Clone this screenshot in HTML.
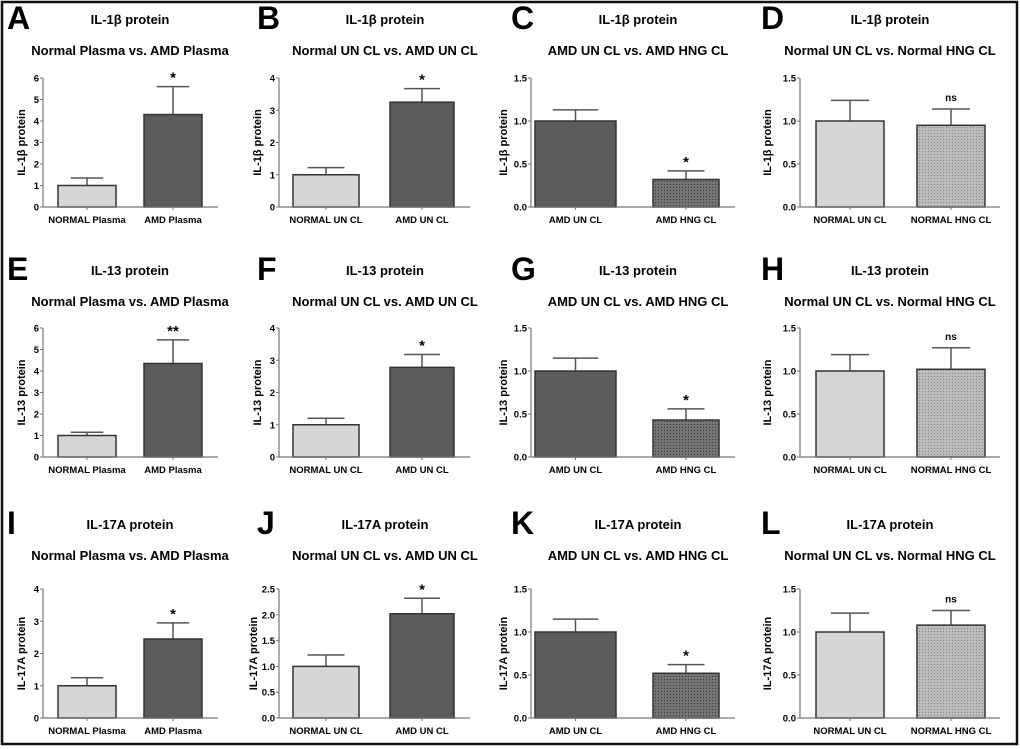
<!DOCTYPE html>
<html><head><meta charset="utf-8"><style>
html,body{margin:0;padding:0;background:#fff;}
svg{display:block;font-family:"Liberation Sans",Arial,sans-serif;}
</style></head><body>
<svg id="fig" width="1020" height="749" viewBox="0 0 1020 749">
<defs>
<pattern id="dotsLight" width="3" height="3" patternUnits="userSpaceOnUse"><rect width="3" height="3" fill="#bcbcbc"/><rect x="1" y="1" width="1" height="1" fill="#858585"/></pattern>
<pattern id="dotsDark" width="3" height="3" patternUnits="userSpaceOnUse"><rect width="3" height="3" fill="#747474"/><rect x="1" y="1" width="1" height="1" fill="#3a3a3a"/></pattern>
</defs>
<rect x="2" y="2" width="1015" height="742" fill="none" stroke="#111" stroke-width="2.5"/>
</svg>
<script>
const letters = ["A","B","C","D","E","F","G","H","I","J","K","L"];
const titles = ["IL-1β protein","IL-13 protein","IL-17A protein"];
const yLabels = ["IL-1β protein","IL-13 protein","IL-17A protein"];
const subtitles = ["Normal Plasma vs. AMD Plasma","Normal UN CL vs. AMD UN CL","AMD UN CL vs. AMD HNG CL","Normal UN CL vs. Normal HNG CL"];
const categories = [["NORMAL Plasma","AMD Plasma"],["NORMAL UN CL","AMD UN CL"],["AMD UN CL","AMD HNG CL"],["NORMAL UN CL","NORMAL HNG CL"]];
const means = [[1,4.3],[1,3.25],[1,0.32],[1,0.95],[1,4.35],[1,2.78],[1,0.43],[1,1.02],[1,2.45],[1,2.02],[1,0.52],[1,1.08]];
const errors = [[0.35,1.3],[0.22,0.42],[0.13,0.1],[0.24,0.19],[0.15,1.1],[0.2,0.4],[0.15,0.13],[0.19,0.25],[0.25,0.5],[0.22,0.3],[0.15,0.1],[0.22,0.17]];
const sigLabels = ["*","*","*","ns","**","*","*","ns","*","*","*","ns"];
const yMax = [6,4,1.5,1.5,6,4,1.5,1.5,4,2.5,1.5,1.5];
const yStep = [1,1,0.5,0.5,1,1,0.5,0.5,1,0.5,0.5,0.5];
const tickDecimals = [0,0,1,1,0,0,1,1,0,1,1,1];

const svg=document.getElementById('fig');
const NS="http://www.w3.org/2000/svg";
function mk(tag,attrs,parent,text){const e=document.createElementNS(NS,tag);for(const k in attrs)e.setAttribute(k,attrs[k]);if(text!==undefined)e.textContent=text;(parent||svg).appendChild(e);return e;}
const colAxisX=[43,279,531,800], colAxisEnd=[218,470,735,1000];
const colBars=[[[58,116],[144,202]],[[293,359],[390,454]],[[535,616],[653,719]],[[816,884],[917,985]]];
const colTitleX=[130,385,638,890], colLetterX=[7,257,511,761], colYLabelX=[21,257,503,767];
const rowTitleOff=[0,251,505], rowChartOff=[0,250,511];
const fills=[["#d6d6d6","#5c5c5c"],["#d6d6d6","#5c5c5c"],["#5c5c5c","url(#dotsDark)"],["#d6d6d6","url(#dotsLight)"]];

for(let p=0;p<12;p++){
  const r=Math.floor(p/4), c=p%4;
  const g=mk('g',{});
  
  
  const to=rowTitleOff[r], co=rowChartOff[r];
  const L=mk('text',{x:colLetterX[c],y:29+to,'font-size':32,'font-weight':'bold',fill:'#000'},g,letters[p]);
   
  const t=mk('text',{x:colTitleX[c],y:24+to,'font-size':13,'font-weight':'bold','text-anchor':'middle'},g,titles[r]);
   
  const s=mk('text',{x:colTitleX[c],y:55+to,'font-size':13,'font-weight':'bold','text-anchor':'middle'},g,subtitles[c]);
   
  const y0=207+co, yTop=78+co, ax=colAxisX[c];
  const yS=v=>y0-(v/yMax[p])*(y0-yTop);
  for(let b=0;b<2;b++){
    const [x0,x1]=colBars[c][b];
    const m=means[p][b], e=errors[p][b], xm=(x0+x1)/2;
    const el=mk('line',{x1:xm,x2:xm,y1:yS(m),y2:yS(m+e),stroke:'#555','stroke-width':1.5},g);
     
    const ec=mk('line',{x1:xm-(x1-x0)*0.28,x2:xm+(x1-x0)*0.28,y1:yS(m+e),y2:yS(m+e),stroke:'#555','stroke-width':1.5},g);
     
    const rect=mk('rect',{x:x0,y:yS(m),width:x1-x0,height:y0-yS(m),fill:fills[c][b],stroke:'#333','stroke-width':1.5},g);
    
    
    const cl=mk('text',{x:xm,y:y0+16,'font-size':9.5,'font-weight':'bold','text-anchor':'middle'},g,categories[c][b]);
     
    const tk=mk('line',{x1:xm,x2:xm,y1:y0,y2:y0+3,stroke:'#777'},g);
     
    if(b===1){
      const sg=mk('text',{x:xm,y:yS(m+e)-(sigLabels[p]==='ns'?8:4),'font-size':sigLabels[p]==='ns'?10:15,'font-weight':'bold','text-anchor':'middle'},g,sigLabels[p]);
       
    }
  }
  const ya=mk('line',{x1:ax,x2:ax,y1:yTop,y2:y0,stroke:'#777','stroke-width':1.2},g);
   
  const xa=mk('line',{x1:ax,x2:colAxisEnd[c],y1:y0,y2:y0,stroke:'#777','stroke-width':1.2},g);
   
  for(let v=0;v<=yMax[p]+1e-9;v+=yStep[p]){
    const yy=yS(v);
    const tl=mk('line',{x1:ax-3,x2:ax,y1:yy,y2:yy,stroke:'#777'},g);
     
    const tx=mk('text',{x:ax-4,y:yy+3.5,'font-size':9.5,'font-weight':'bold','text-anchor':'end'},g,v.toFixed(tickDecimals[p]));
     
  }
  const ylx = (c===1 && r===2) ? colYLabelX[c]-4 : colYLabelX[c];
  const yl=mk('text',{x:0,y:0,'font-size':11,'font-weight':'bold','text-anchor':'middle',transform:`translate(${ylx+4},${(y0+yTop)/2}) rotate(-90)`},g,yLabels[r]);
   
}
</script>
</body></html>
